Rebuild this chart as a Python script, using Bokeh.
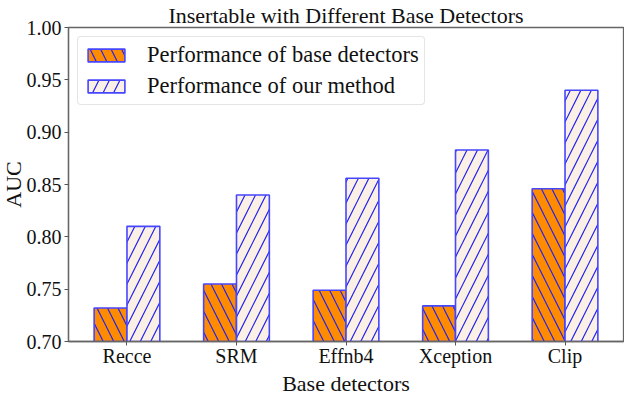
from bokeh.plotting import figure
from bokeh.models import (ColumnDataSource, Range1d, FixedTicker, NumeralTickFormatter,
                          Legend, LegendItem, Title)
from bokeh.transform import dodge
from bokeh.embed import file_html
from bokeh.resources import INLINE

categories = ["Recce", "SRM", "Effnb4", "Xception", "Clip"]
base_auc = [0.732, 0.755, 0.749, 0.734, 0.846]
ours_auc = [0.810, 0.840, 0.856, 0.883, 0.940]
y_ticks = [0.70, 0.75, 0.80, 0.85, 0.90, 0.95, 1.00]
x_label = "Base detectors"
y_label = "AUC"
title = "Insertable with Different Base Detectors"

FONT = "Liberation Serif"
EDGE = "#4646ff"
HATCH = "#2222ee"

src = ColumnDataSource(dict(xi=list(range(len(categories))), base=base_auc, ours=ours_auc))

p = figure(width=624, height=394, output_backend="svg", toolbar_location=None,
           x_range=Range1d(-0.534, 4.534), y_range=Range1d(0.70, 1.00),
           title=title,
           min_border_left=0, min_border_right=1, min_border_top=0, min_border_bottom=0)

p.title.text_font = FONT
p.title.text_font_size = "22px"
p.title.text_font_style = "normal"
p.title.align = "center"
p.title.text_color = "#111111"
p.title.standoff = 0
p.title.offset = 0

r1 = p.vbar(x=dodge("xi", -0.15), top="base", bottom=0, width=0.3, source=src,
            fill_color="#ff8c00", line_color=EDGE, line_width=1.6,
            hatch_pattern="left_diagonal_line", hatch_color=HATCH,
            hatch_scale=21, hatch_weight=1.2)
r2 = p.vbar(x=dodge("xi", 0.15), top="ours", bottom=0, width=0.3, source=src,
            fill_color="#faf0e6", line_color=EDGE, line_width=1.6,
            hatch_pattern="right_diagonal_line", hatch_color=HATCH,
            hatch_scale=21, hatch_weight=1.2)

p.xgrid.visible = False
p.ygrid.visible = False
p.outline_line_color = "#666666"
p.outline_line_width = 1.3

p.xaxis.ticker = FixedTicker(ticks=list(range(len(categories))))
p.xaxis.major_label_overrides = {i: c for i, c in enumerate(categories)}
p.yaxis.ticker = FixedTicker(ticks=y_ticks)
p.yaxis.formatter = NumeralTickFormatter(format="0.00")

for ax in (p.xaxis, p.yaxis):
    ax.axis_line_color = "#666666"
    ax.axis_line_width = 1.3
    ax.major_tick_line_color = "#555555"
    ax.major_tick_out = 4
    ax.major_tick_in = 0
    ax.minor_tick_line_color = None
    ax.major_label_text_font = FONT
    ax.major_label_text_font_size = "20px"
    ax.major_label_text_color = "#111111"
p.xaxis.major_label_standoff = -1
p.yaxis.major_label_standoff = 3

# axis titles as compact side titles
for txt, side, so in ((x_label, "below", -2), (y_label, "left", -4)):
    t = Title(text=txt, align="center", text_font=FONT, text_font_size="22px",
              text_font_style="normal", text_color="#111111", standoff=so, offset=0)
    p.add_layout(t, side)

legend = Legend(items=[LegendItem(label="Performance of base detectors", renderers=[r1]),
                       LegendItem(label="Performance of our method", renderers=[r2])],
                location="top_left", margin=9, padding=5, spacing=5,
                glyph_width=46, glyph_height=16, label_standoff=18,
                label_text_font=FONT, label_text_font_size="22.5px", label_text_color="#111111",
                border_line_color="#cccccc", border_line_width=1.2,
                background_fill_color="white", background_fill_alpha=1)
if "border_radius" in Legend.properties():
    legend.border_radius = 4
p.add_layout(legend, "center")

open("out.html", "w").write(file_html(p, INLINE))
